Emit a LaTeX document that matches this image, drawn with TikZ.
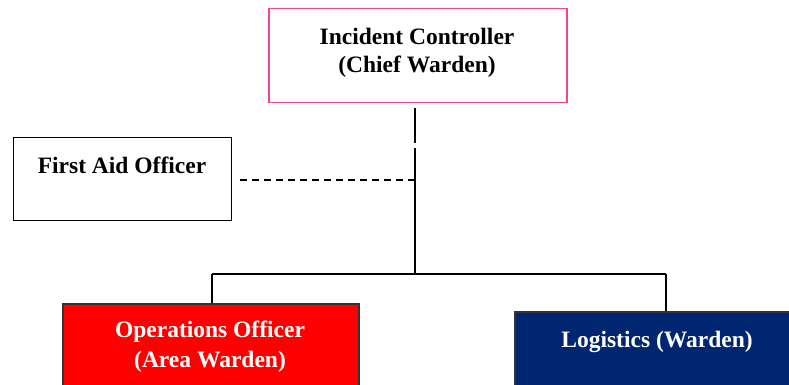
\documentclass[tikz,border=0pt]{standalone}
\usepackage{fontspec}
\setmainfont{Liberation Serif}
\definecolor{pinkb}{HTML}{F0468C}
\definecolor{opsred}{HTML}{FF0000}
\definecolor{navy}{HTML}{002672}
\begin{document}
\begin{tikzpicture}[x=1pt,y=-1pt,
  box/.style={draw, line width=1.5pt, inner sep=0pt, anchor=north west},
  lbl/.style={font=\bfseries\fontsize{23.5}{28}\selectfont, inner sep=0pt},
  conn/.style={line width=1.8pt}]
\useasboundingbox (0,0) rectangle (789,385);
\node[box, draw=pinkb, minimum width=298pt, minimum height=94pt] (ic) at (268,8) {};
\node[lbl] (ic1) at (417,36) {Incident Controller};
\node[lbl] (ic2) at (417,67) {(Chief Warden)};
\node[box, draw=black, line width=1.3pt, minimum width=218pt, minimum height=83pt] (fa) at (13,137) {};
\node[lbl] (fa1) at (122,165) {First Aid Officer};
\node[box, draw=black!80, fill=opsred, minimum width=296pt, minimum height=90pt] (ops) at (62,303) {};
\node[lbl, text=white] (ops1) at (210,332) {Operations Officer};
\node[lbl, text=white] (ops2) at (210,362) {(Area Warden)};
\node[box, draw=black!80, fill=navy, minimum width=285pt, minimum height=82pt] (lg) at (514,311) {};
\node[lbl, text=white] (lg1) at (657,342) {Logistics (Warden)};
\coordinate (t1) at (415,108);
\coordinate (t2) at (415,143);
\coordinate (t3) at (415,148);
\coordinate (t4) at (415,274);
\coordinate (hl) at (212,274);
\coordinate (hr) at (666,274);
\coordinate (d1) at (240,180);
\coordinate (d2) at (415,180);
\draw[conn] (t1) -- (t2);
\draw[conn] (t3) -- (t4);
\draw[line width=1.5pt] (hl) -- (hr);
\draw[conn] (hl) -- (hl |- ops.north);
\draw[conn] (hr) -- (hr |- lg.north);
\draw[line width=1.3pt, dash pattern=on 7pt off 5pt] (d1) -- (d2);
\end{tikzpicture}
\end{document}
